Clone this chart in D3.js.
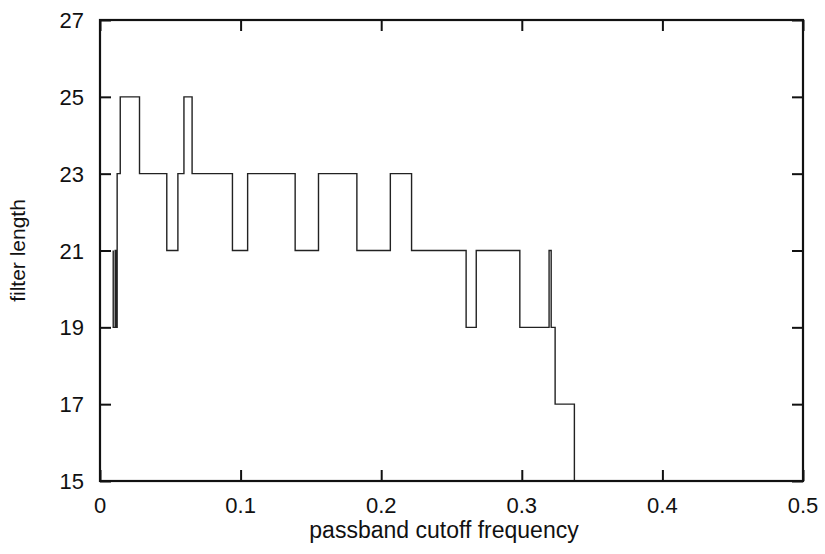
<!DOCTYPE html>
<html>
<head>
<meta charset="utf-8">
<script src="https://cdn.jsdelivr.net/npm/d3@7"></script>
<style>
  html, body { margin: 0; padding: 0; background: #fff; }
  svg { display: block; }
  text { font-family: "Liberation Sans", Arial, Helvetica, sans-serif; fill: #111; }
</style>
</head>
<body>
<svg id="chart" width="825" height="554"></svg>
<script>
// Step data: filter length holds from freq[i] until freq[i+1]
const freq = [0.0094, 0.0094, 0.0108, 0.0115, 0.0122, 0.0144, 0.0281, 0.0475, 0.0554, 0.0597,
              0.0655, 0.0942, 0.1050, 0.1388, 0.1554, 0.1827, 0.2065, 0.2216, 0.2604, 0.2676,
              0.2986, 0.3194, 0.3209, 0.3237, 0.3374];
const filterLength = [21, 19, 21, 19, 23, 25, 23, 21, 23, 25,
                      23, 21, 23, 21, 23, 21, 23, 21, 19, 21,
                      19, 21, 19, 17, 15];
const xTicks = [0, 0.1, 0.2, 0.3, 0.4, 0.5];
const xTickLabels = ["0", "0.1", "0.2", "0.3", "0.4", "0.5"];
const yTicks = [15, 17, 19, 21, 23, 25, 27];
const yTickLabels = ["15", "17", "19", "21", "23", "25", "27"];
const xTitle = "passband cutoff frequency";
const yTitle = "filter length";

const svg = d3.select("#chart");
const mLeft = 100, mRight = 803, mTop = 20, mBottom = 481;

const x = d3.scaleLinear().domain([0, 0.5]).range([mLeft, mRight]);
const y = d3.scaleLinear().domain([15, 27]).range([mBottom, mTop]);

const data = freq.map((f, i) => ({ f: f, v: filterLength[i] }));

// data line
const line = d3.line().x(d => x(d.f)).y(d => y(d.v)).curve(d3.curveStepAfter);
svg.append("path")
  .datum(data)
  .attr("d", line)
  .attr("fill", "none")
  .attr("stroke", "#222")
  .attr("stroke-width", 1.4);

// axes (ticks pointing inward)
const tickLen = 11;

const gBottom = svg.append("g").attr("transform", `translate(0,${mBottom})`)
  .call(d3.axisTop(x).tickValues(xTicks).tickSize(tickLen).tickFormat(""));
const gTop = svg.append("g").attr("transform", `translate(0,${mTop})`)
  .call(d3.axisBottom(x).tickValues(xTicks).tickSize(tickLen).tickFormat(""));
const gLeft = svg.append("g").attr("transform", `translate(${mLeft},0)`)
  .call(d3.axisRight(y).tickValues(yTicks).tickSize(tickLen).tickFormat(""));
const gRight = svg.append("g").attr("transform", `translate(${mRight},0)`)
  .call(d3.axisLeft(y).tickValues(yTicks).tickSize(tickLen).tickFormat(""));

[gBottom, gTop, gLeft, gRight].forEach(g => {
  g.select(".domain").remove();
  g.selectAll(".tick line").attr("stroke", "#111").attr("stroke-width", 2);
});

// frame
svg.append("rect")
  .attr("x", mLeft).attr("y", mTop)
  .attr("width", mRight - mLeft).attr("height", mBottom - mTop)
  .attr("fill", "none").attr("stroke", "#111").attr("stroke-width", 2.2);

// tick labels
svg.append("g").selectAll("text")
  .data(xTicks).join("text")
  .attr("x", d => x(d)).attr("y", mBottom + 32)
  .attr("text-anchor", "middle")
  .attr("font-size", 22)
  .text((d, i) => xTickLabels[i]);

svg.append("g").selectAll("text")
  .data(yTicks).join("text")
  .attr("x", mLeft - 16).attr("y", d => y(d) + 8)
  .attr("text-anchor", "end")
  .attr("font-size", 22)
  .text((d, i) => yTickLabels[i]);

// titles
svg.append("text")
  .attr("x", 444).attr("y", mBottom + 57)
  .attr("text-anchor", "middle")
  .attr("font-size", 23)
  .text(xTitle);

svg.append("text")
  .attr("transform", `translate(25,${(mTop + mBottom) / 2}) rotate(-90)`)
  .attr("text-anchor", "middle")
  .attr("font-size", 21)
  .text(yTitle);
</script>
</body>
</html>
